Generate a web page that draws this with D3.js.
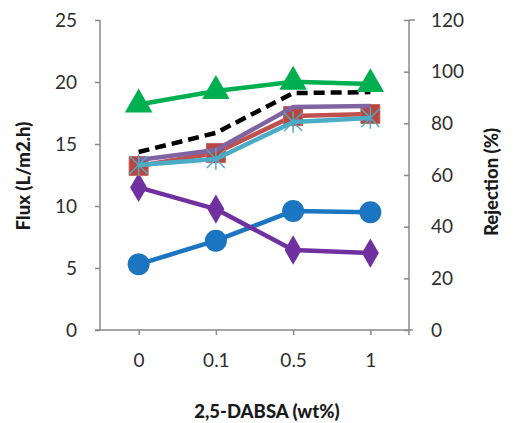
<!DOCTYPE html>
<html>
<head>
<meta charset="utf-8">
<script src="https://cdn.jsdelivr.net/npm/d3@7"></script>
<style>
  html, body { margin: 0; padding: 0; background: #fff; }
  svg { display: block; }
  .tick text { font-family: Lato, "Open Sans", sans-serif; font-size: 19px; fill: #2e2e2e; }
  .title { font-family: Lato, "Open Sans", sans-serif; font-size: 18.5px; font-weight: 900; fill: #1a1a1a; }
</style>
</head>
<body>
<div id="chart"></div>
<script>
// ── Data ──
const categories = ['0', '0.1', '0.5', '1'];
const fluxTicks = [0, 5, 10, 15, 20, 25];
const rejTicks = [0, 20, 40, 60, 80, 100, 120];

// left axis (flux)
const fluxCircle = [5.3, 7.2, 9.6, 9.5];
const fluxDiamond = [11.5, 9.75, 6.45, 6.2];
// right axis (rejection %)
const rejSquare = [63.5, 68.5, 82.8, 83.6];
const rejPurple = [65.8, 69.7, 86.3, 86.7];
const rejStar = [63.9, 66.2, 80.5, 82.1];
const rejDashed = [68.9, 76.3, 91.7, 92.1];
const rejTriangle = [87.3, 92.5, 96.1, 95.2];

const W = 515, H = 423;
const m = { left: 100, right: 409, top: 20, bottom: 330 };

const svg = d3.select('#chart').append('svg')
  .attr('width', W).attr('height', H);

const x = d3.scalePoint().domain(categories).range([m.left, m.right]).padding(0.5);
const yL = d3.scaleLinear().domain([0, 25]).range([m.bottom, m.top]);
const yR = d3.scaleLinear().domain([0, 120]).range([m.bottom, m.top]);

const axisColor = '#8a8a8a';

// ── Axes ──
const gL = svg.append('g').attr('transform', 'translate(' + m.left + ',0)')
  .call(d3.axisLeft(yL).tickValues(fluxTicks).tickSize(5).tickPadding(18));
const gR = svg.append('g').attr('transform', 'translate(' + m.right + ',0)')
  .call(d3.axisRight(yR).tickValues(rejTicks).tickSize(-5).tickPadding(22));
const gB = svg.append('g').attr('transform', 'translate(0,' + m.bottom + ')')
  .call(d3.axisBottom(x).tickSize(5).tickPadding(18));

[gL, gR, gB].forEach(function(g) {
  g.select('.domain').remove();
  g.selectAll('.tick line').attr('stroke', axisColor).attr('stroke-width', 1.5);
});
gB.selectAll('.tick text').attr('dy', '0.75em');

// axis lines
svg.append('line').attr('x1', m.left).attr('x2', m.left).attr('y1', m.top).attr('y2', m.bottom)
  .attr('stroke', axisColor).attr('stroke-width', 1.5);
svg.append('line').attr('x1', m.right).attr('x2', m.right).attr('y1', m.top).attr('y2', m.bottom + 5)
  .attr('stroke', axisColor).attr('stroke-width', 1.5);
svg.append('line').attr('x1', m.left - 5).attr('x2', m.right + 4).attr('y1', m.bottom).attr('y2', m.bottom)
  .attr('stroke', axisColor).attr('stroke-width', 1.5);
svg.append('line').attr('x1', m.right).attr('x2', m.right + 6).attr('y1', m.top).attr('y2', m.top)
  .attr('stroke', axisColor).attr('stroke-width', 1.5);

// ── Titles ──
svg.append('text').attr('class', 'title')
  .attr('transform', 'translate(30,' + 176 + ') rotate(-90)')
  .attr('text-anchor', 'middle').text('Flux (L/m2.h)');
svg.append('text').attr('class', 'title')
  .attr('transform', 'translate(498,' + 182 + ') rotate(-90)')
  .attr('text-anchor', 'middle').text('Rejection (%)');
svg.append('text').attr('class', 'title')
  .attr('x', 267).attr('y', 418).attr('text-anchor', 'middle').text('2,5-DABSA (wt%)');

// ── Series ──
function pts(vals, y) { return vals.map(function(v, i) { return [x(categories[i]), y(v)]; }); }

function drawLine(vals, y, color, width, dash) {
  svg.append('path').datum(pts(vals, y))
    .attr('d', d3.line())
    .attr('fill', 'none').attr('stroke', color).attr('stroke-width', width)
    .attr('stroke-dasharray', dash || null)
    .attr('stroke-linejoin', 'round');
}

function drawMarkers(vals, y, symbol, size, fill, stroke) {
  svg.append('g').selectAll('path').data(pts(vals, y)).join('path')
    .attr('transform', function(d) { return 'translate(' + d[0] + ',' + d[1] + ')'; })
    .attr('d', d3.symbol().type(symbol).size(size))
    .attr('fill', fill).attr('stroke', stroke || 'none').attr('stroke-width', 1);
}

// blue circles
drawLine(fluxCircle, yL, '#1b75c0', 4.5);
drawMarkers(fluxCircle, yL, d3.symbolCircle, 380, '#1b75c0');

// purple diamonds
drawLine(fluxDiamond, yL, '#7030a0', 4.5);
drawMarkers(fluxDiamond, yL, d3.symbolDiamond, 250, '#7030a0');

// red squares
drawLine(rejSquare, yR, '#c0504d', 4.5);
drawMarkers(rejSquare, yR, d3.symbolSquare, 360, '#b8463f', '#c86560');

// purple line
drawLine(rejPurple, yR, '#8064a2', 4.5);

// black dashed
drawLine(rejDashed, yR, '#000', 4.5, '11,6');

// teal stars
drawLine(rejStar, yR, '#4bacc6', 4.5);
svg.append('g').selectAll('path').data(pts(rejStar, yR)).join('path')
  .attr('d', function(d) {
    const r = 9;
    return 'M' + (d[0] - r) + ',' + (d[1] - r) + 'L' + (d[0] + r) + ',' + (d[1] + r) +
      'M' + (d[0] - r) + ',' + (d[1] + r) + 'L' + (d[0] + r) + ',' + (d[1] - r) +
      'M' + d[0] + ',' + (d[1] - r * 1.2) + 'L' + d[0] + ',' + (d[1] + r * 1.2);
  })
  .attr('stroke', '#4bacc6').attr('stroke-width', 1.5).attr('fill', 'none');

// green triangles
drawLine(rejTriangle, yR, '#00b050', 4.5);
drawMarkers(rejTriangle, yR, d3.symbolTriangle, 330, '#00b050');
</script>
</body>
</html>
